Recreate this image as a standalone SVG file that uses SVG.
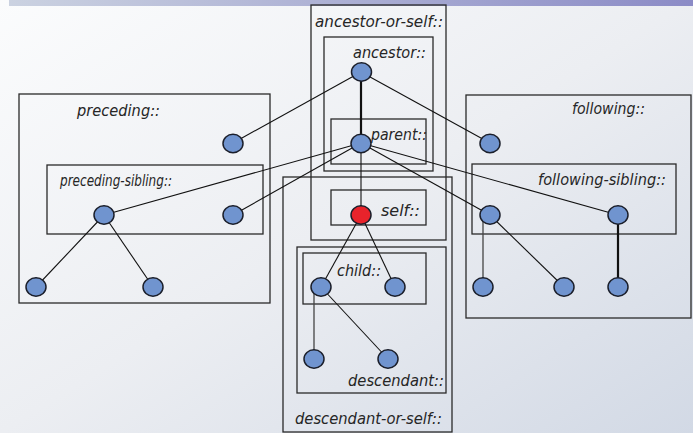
<svg xmlns="http://www.w3.org/2000/svg" width="693" height="433" viewBox="0 0 693 433">
<defs>
<linearGradient id="bg" x1="0" y1="0" x2="1" y2="1">
<stop offset="0" stop-color="#fbfcfd"/>
<stop offset="0.5" stop-color="#eceef2"/>
<stop offset="1" stop-color="#d2d9e5"/>
</linearGradient>
<linearGradient id="bar" x1="0" y1="0" x2="1" y2="0">
<stop offset="0" stop-color="#cbd2e1"/>
<stop offset="1" stop-color="#8b8bc6"/>
</linearGradient>
<style>
.box{fill:none;stroke:#2a2a2a;stroke-width:1.3}
.lbl{font-family:"DejaVu Sans","Liberation Sans",sans-serif;font-style:italic;font-size:15px;fill:#262626}
.n{fill:#7094cf;stroke:#1b1f2b;stroke-width:1.5}
.self{fill:#e8232b;stroke:#1b1f2b;stroke-width:1.5}
.e{stroke:#111;stroke-width:1.1;fill:none}
.eb{stroke:#111;stroke-width:2.2;fill:none}
.eg{stroke:#444;stroke-width:1.3;fill:none}
</style>
</defs>
<rect x="0" y="0" width="693" height="433" fill="url(#bg)"/>
<rect x="9" y="0" width="684" height="6" fill="url(#bar)"/>

<g id="boxes">
<g id="ancestor-or-self"><rect class="box" x="311" y="5" width="135" height="235"/><text class="lbl" x="315" y="27" textLength="128" lengthAdjust="spacingAndGlyphs">ancestor-or-self::</text></g>
<g id="ancestor"><rect class="box" x="324" y="37" width="109" height="134"/><text class="lbl" x="353" y="58" textLength="73" lengthAdjust="spacingAndGlyphs">ancestor::</text></g>
<g id="parent"><rect class="box" x="331" y="119" width="95" height="45"/><text class="lbl" x="371" y="140" textLength="56" lengthAdjust="spacingAndGlyphs">parent::</text></g>
<g id="self"><rect class="box" x="331" y="190" width="95" height="35"/><text class="lbl" x="381" y="216" textLength="39" lengthAdjust="spacingAndGlyphs">self::</text></g>
<g id="descendant-or-self"><rect class="box" x="283" y="177" width="169" height="255"/><text class="lbl" x="295" y="424" textLength="147" lengthAdjust="spacingAndGlyphs">descendant-or-self::</text></g>
<g id="descendant"><rect class="box" x="297" y="247" width="149" height="146"/><text class="lbl" x="348" y="386" textLength="96" lengthAdjust="spacingAndGlyphs">descendant::</text></g>
<g id="child"><rect class="box" x="303" y="253" width="123" height="51"/><text class="lbl" x="337" y="276" textLength="44" lengthAdjust="spacingAndGlyphs">child::</text></g>
<g id="preceding"><rect class="box" x="19" y="94" width="251" height="209"/><text class="lbl" x="77" y="116" textLength="83" lengthAdjust="spacingAndGlyphs">preceding::</text></g>
<g id="preceding-sibling"><rect class="box" x="47" y="165" width="216" height="69"/><text class="lbl" x="60" y="186" style="font-size:16px" textLength="112" lengthAdjust="spacingAndGlyphs">preceding-sibling::</text></g>
<g id="following"><rect class="box" x="466" y="95" width="225" height="223"/><text class="lbl" x="572" y="114" textLength="73" lengthAdjust="spacingAndGlyphs">following::</text></g>
<g id="following-sibling"><rect class="box" x="472" y="164" width="204" height="70"/><text class="lbl" x="538" y="185" textLength="128" lengthAdjust="spacingAndGlyphs">following-sibling::</text></g>
</g>

<g id="connectors">
<line class="eb" x1="361" y1="72" x2="361" y2="143"/>
<line class="e" x1="361" y1="72" x2="233" y2="143"/>
<line class="e" x1="361" y1="72" x2="490" y2="143"/>
<line class="e" x1="361" y1="143" x2="104" y2="215"/>
<line class="e" x1="361" y1="143" x2="233" y2="215"/>
<line class="e" x1="361" y1="143" x2="490" y2="215"/>
<line class="e" x1="361" y1="143" x2="618" y2="215"/>
<line class="e" x1="361" y1="143" x2="361" y2="215"/>
<line class="e" x1="104" y1="215" x2="36" y2="287"/>
<line class="e" x1="104" y1="215" x2="153" y2="287"/>
<line class="e" x1="361" y1="215" x2="321" y2="287"/>
<line class="e" x1="361" y1="215" x2="395" y2="287"/>
<line class="eg" x1="314" y1="290" x2="314" y2="359"/>
<line class="e" x1="321" y1="287" x2="388" y2="359"/>
<line class="eg" x1="483" y1="212" x2="483" y2="287"/>
<line class="e" x1="490" y1="215" x2="564" y2="287"/>
<line class="eb" x1="618" y1="215" x2="618" y2="287"/>
</g>

<g id="nodes">
<ellipse id="n-ancestor" class="n" cx="361.5" cy="72" rx="10" ry="9.2"/>
<ellipse id="n-parent" class="n" cx="361" cy="143.5" rx="10" ry="9.2"/>
<ellipse id="n-self" class="self" cx="361" cy="215" rx="10" ry="9.2"/>
<ellipse id="n-preceding" class="n" cx="233" cy="143.5" rx="10" ry="9.2"/>
<ellipse id="n-ps1" class="n" cx="104" cy="215" rx="10" ry="9.2"/>
<ellipse id="n-ps2" class="n" cx="233" cy="215" rx="10" ry="9.2"/>
<ellipse id="n-p1" class="n" cx="36" cy="287" rx="10" ry="9.2"/>
<ellipse id="n-p2" class="n" cx="153" cy="287" rx="10" ry="9.2"/>
<ellipse id="n-following" class="n" cx="490" cy="143.5" rx="10" ry="9.2"/>
<ellipse id="n-fs1" class="n" cx="490" cy="215" rx="10" ry="9.2"/>
<ellipse id="n-fs2" class="n" cx="618" cy="215" rx="10" ry="9.2"/>
<ellipse id="n-f1" class="n" cx="483" cy="287" rx="10" ry="9.2"/>
<ellipse id="n-f2" class="n" cx="564" cy="287" rx="10" ry="9.2"/>
<ellipse id="n-f3" class="n" cx="618" cy="287" rx="10" ry="9.2"/>
<ellipse id="n-c1" class="n" cx="321" cy="287" rx="10" ry="9.2"/>
<ellipse id="n-c2" class="n" cx="395" cy="287" rx="10" ry="9.2"/>
<ellipse id="n-d1" class="n" cx="314" cy="359" rx="10" ry="9.2"/>
<ellipse id="n-d2" class="n" cx="388" cy="359" rx="10" ry="9.2"/>
</g>
</svg>
